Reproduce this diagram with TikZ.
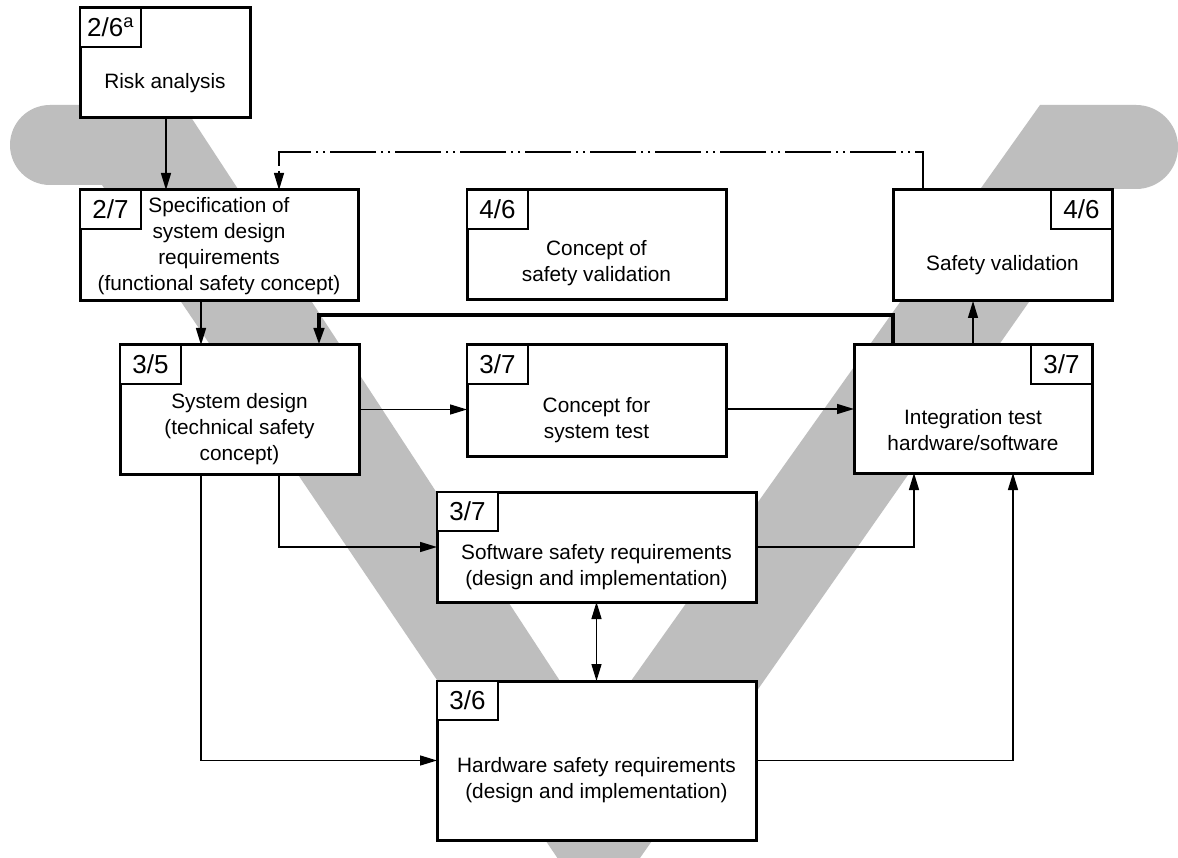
\documentclass[tikz,border=0pt]{standalone}
\usepackage{fontspec}
\setmainfont{Liberation Sans}
\usetikzlibrary{arrows.meta}
\definecolor{bandgrey}{RGB}{190,190,190}
\tikzset{
  box/.style={draw, line width=3pt, fill=white, outer sep=0pt, inner sep=0pt, anchor=north west},
  tag/.style={draw, line width=2.6pt, fill=white, outer sep=0pt, inner sep=0pt,
    minimum width=61, minimum height=39, font=\fontsize{26pt}{30pt}\selectfont},
  txt/.style={align=center, inner sep=0pt, font=\fontsize{20.8pt}{26pt}\selectfont},
  tip/.style={-{Triangle[length=17pt,width=10pt]}},
  conn/.style={line width=1.4pt, tip},
  both/.style={line width=1.4pt, {Triangle[length=17pt,width=10pt]}-{Triangle[length=17pt,width=10pt]}},
  heavy/.style={line width=4pt, tip},
  feedback/.style={line width=1.1pt, tip, dash pattern=on 46pt off 5pt on 2pt off 5pt on 2pt off 5pt}
}
\begin{document}
\begin{tikzpicture}[x=1pt,y=-1pt]
\useasboundingbox (0,0) rectangle (1178,858);
\fill[white] (0,0) rectangle (1178,858);

% shaded V band behind the boxes
\begin{scope}
  \clip (0,0) rectangle (1178,858);
  \fill[bandgrey] (50,105) -- (183,105) -- (594,733) -- (1040,105) -- (1136,105)
    -- (1136,189) -- (1108,189) -- (598,918) -- (102,185) -- (50,185) -- cycle;
  \fill[bandgrey] (50,145) circle[radius=40];
  \fill[bandgrey] (1136,147) circle[radius=42];
\end{scope}

% boxes
\node[box, minimum width=170, minimum height=110] (risk) at (80,8) {};
\node[box, minimum width=278, minimum height=111] (spec) at (80,190) {};
\node[box, minimum width=259, minimum height=110] (cosv) at (467,190) {};
\node[box, minimum width=219, minimum height=111] (sv) at (893,190) {};
\node[box, minimum width=239, minimum height=129] (sd) at (120,345) {};
\node[box, minimum width=259, minimum height=111] (cst) at (467,345) {};
\node[box, minimum width=238, minimum height=128] (it) at (854,345) {};
\node[box, minimum width=319, minimum height=110] (sw) at (437,492) {};
\node[box, minimum width=319, minimum height=159] (hw) at (437,681) {};

% clause numbers
\node[tag, anchor=north west] (riskn) at (risk.north west) {2/6\textsuperscript{a}};
\node[tag, anchor=north west] (specn) at (spec.north west) {2/7};
\node[tag, anchor=north west] (cosvn) at (cosv.north west) {4/6};
\node[tag, anchor=north east] (svn) at (sv.north east) {4/6};
\node[tag, anchor=north west] (sdn) at (sd.north west) {3/5};
\node[tag, anchor=north west] (cstn) at (cst.north west) {3/7};
\node[tag, anchor=north east] (itn) at (it.north east) {3/7};
\node[tag, anchor=north west] (swn) at (sw.north west) {3/7};
\node[tag, anchor=north west] (hwn) at (hw.north west) {3/6};

% box texts
\node[txt] (riskt) at (165,83) {Risk analysis};
\node[txt] (spect) at (219,246) {Specification of\\system design\\requirements\\(functional safety concept)};
\node[txt] (cosvt) at (596.5,263) {Concept of\\safety validation};
\node[txt] (svt) at (1002.5,265) {Safety validation};
\node[txt] (sdt) at (239.5,429) {System design\\(technical safety\\concept)};
\node[txt] (cstt) at (596.5,420) {Concept for\\system test};
\node[txt] (itt) at (973,430) {Integration test\\hardware/software};
\node[txt] (swt) at (596.5,567) {Software safety requirements\\(design and implementation)};
\node[txt] (hwt) at (596.5,780) {Hardware safety requirements\\(design and implementation)};

% routing columns and rows
\coordinate (xrisk) at (166,0);
\coordinate (xfbl) at (279,0);
\coordinate (xfbr) at (923,0);
\coordinate (xsd) at (201,0);
\coordinate (xret) at (319,0);
\coordinate (xup) at (893,0);
\coordinate (xswi) at (914,0);
\coordinate (xhwi) at (1013,0);
\coordinate (yfb) at (0,152);
\coordinate (yret) at (0,315);

% connectors
\draw[conn] (risk.south -| xrisk) -- (spec.north -| xrisk);
\draw[feedback] (sv.north -| xfbr) -- (yfb -| xfbr) -- (yfb -| xfbl) -- (spec.north -| xfbl);
\draw[conn] (spec.south -| xsd) -- (sd.north -| xsd);
\draw[heavy] (it.north -| xup) -- (yret -| xup) -- (yret -| xret) -- (sd.north -| xret);
\draw[conn] (it.north) -- (sv.south -| it.north);
\draw[conn] (sd.east) -- (sd.east -| cst.west);
\draw[conn] (cst.east |- it.west) -- (it.west);
\draw[conn] (sd.south -| xfbl) -- (sw.west -| xfbl) -- (sw.west);
\draw[conn] (sd.south -| xsd) -- (hw.west -| xsd) -- (hw.west);
\draw[conn] (sw.east) -- (sw.east -| xswi) -- (it.south -| xswi);
\draw[conn] (hw.east) -- (hw.east -| xhwi) -- (it.south -| xhwi);
\draw[both] (sw.south) -- (hw.north);
\end{tikzpicture}
\end{document}
